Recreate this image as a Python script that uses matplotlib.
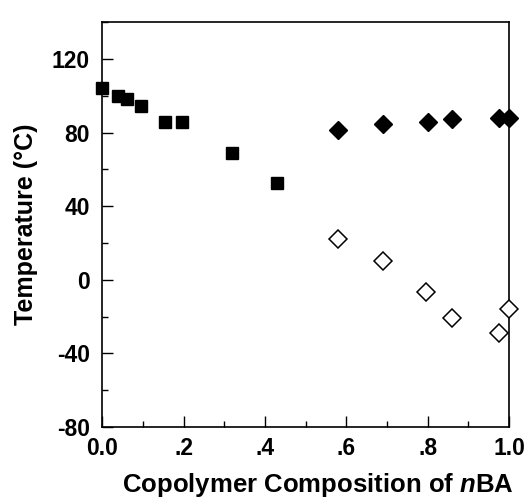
import matplotlib
matplotlib.use('Agg')
import matplotlib.pyplot as plt
from matplotlib.ticker import MultipleLocator, FixedLocator

# filled squares
sq_x = [0.0, 0.04, 0.06, 0.095, 0.155, 0.195, 0.32, 0.43]
sq_y = [104, 100, 98, 94.5, 85.5, 86, 69, 52.5]

# filled diamonds
fd_x = [0.58, 0.69, 0.80, 0.86, 0.975, 1.0]
fd_y = [81.5, 84.5, 86, 87.5, 88, 88]

# open diamonds
od_x = [0.58, 0.69, 0.795, 0.86, 0.975, 1.0]
od_y = [22, 10, -6.5, -21, -29, -16]

x_ticks = [0.0, 0.2, 0.4, 0.6, 0.8, 1.0]
x_labels = ['0.0', '.2', '.4', '.6', '.8', '1.0']
y_ticks = [-80, -40, 0, 40, 80, 120]

plt.rcParams['font.family'] = ['Liberation Sans', 'DejaVu Sans']
plt.rcParams['font.weight'] = 'bold'
plt.rcParams['mathtext.fontset'] = 'custom'
plt.rcParams['mathtext.it'] = 'Liberation Sans:italic:bold'
plt.rcParams['mathtext.rm'] = 'Liberation Sans:bold'

fig = plt.figure(figsize=(5.32, 5.04), dpi=100)
ax = fig.add_axes([0.192, 0.153, 0.765, 0.803])

ax.plot(sq_x, sq_y, 's', color='black', markersize=9, clip_on=False)
ax.plot(fd_x, fd_y, 'D', color='black', markersize=9.5, clip_on=False)
ax.plot(od_x, od_y, 'D', markerfacecolor='white', markeredgecolor='black',
        markeredgewidth=1.1, markersize=9.5, clip_on=False, zorder=5)

ax.set_xlim(0, 1.0)
ax.set_ylim(-80, 140)
ax.xaxis.set_major_locator(FixedLocator(x_ticks))
ax.set_xticklabels(x_labels)
ax.xaxis.set_minor_locator(MultipleLocator(0.1))
ax.yaxis.set_major_locator(FixedLocator(y_ticks))
ax.set_yticklabels([str(v) for v in y_ticks])
ax.yaxis.set_minor_locator(MultipleLocator(20))

ax.tick_params(which='major', direction='in', length=8, width=1.0,
               labelsize=16.5)
ax.tick_params(axis='x', which='major', pad=7)
ax.tick_params(axis='y', which='major', pad=9)
ax.tick_params(which='minor', direction='in', length=4, width=1.0)
for s in ax.spines.values():
    s.set_linewidth(1.2)

ax.set_xlabel('Copolymer Composition of $\\mathit{n}$BA', fontsize=18.5,
              fontweight='bold')
ax.xaxis.set_label_coords(0.53, -0.11)
ax.set_ylabel('Temperature (°C)', fontsize=18, fontweight='bold', labelpad=10)

fig.savefig('out.png', dpi=100)
